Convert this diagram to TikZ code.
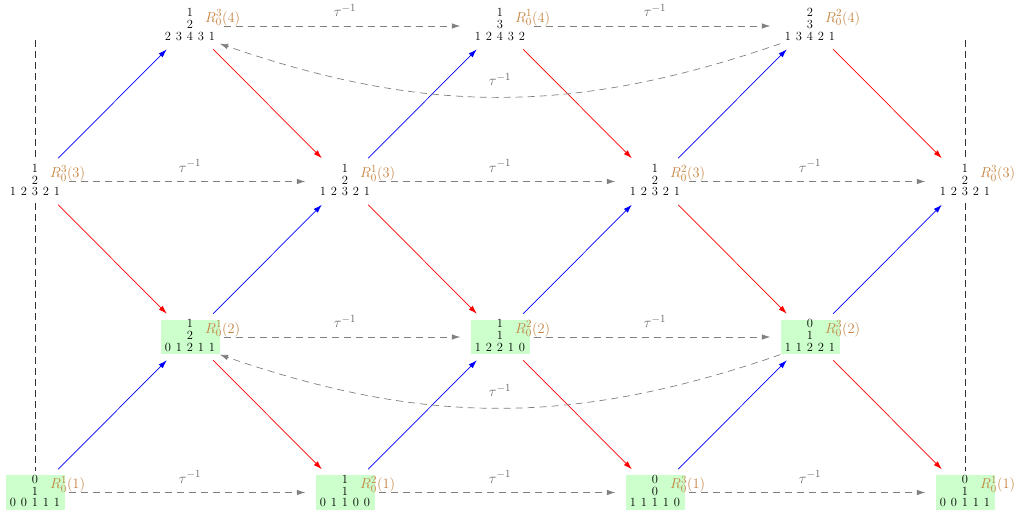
\documentclass[tikz,border=0pt]{standalone}
\usetikzlibrary{arrows.meta}
\definecolor{labc}{RGB}{196,130,62}
\definecolor{nodegreen}{RGB}{204,255,204}
\newcommand\stk[7]{\begin{tabular}{@{}c@{}}#1\\#2\\\mbox{\makebox[11pt]{#3}\makebox[11pt]{#4}\makebox[11pt]{#5}\makebox[11pt]{#6}\makebox[11pt]{#7}}\end{tabular}}
\begin{document}
\begin{tikzpicture}[x=1pt,y=-1pt,
  stkbox/.style={inner xsep=2pt, inner ysep=0pt, font=\fontsize{12.5}{11}\selectfont},
  gstkbox/.style={stkbox, fill=nodegreen},
  lab/.style={text=labc, font=\fontsize{15}{17}\selectfont, anchor=base west, inner sep=0pt},
  uparr/.style={blue, line width=0.7pt, -{Latex[length=8.5pt,width=5.5pt]}, shorten <=8pt, shorten >=8pt},
  downarr/.style={red, line width=0.7pt, -{Latex[length=8.5pt,width=5.5pt]}, shorten <=8pt, shorten >=8pt},
  tauarr/.style={gray, line width=0.7pt, dash pattern=on 7pt off 5pt, -{Latex[length=8.5pt,width=5.5pt]}},
  taulab/.style={text=black!60, font=\fontsize{15}{17}\selectfont, inner sep=0pt},
  vline/.style={black!80, line width=0.7pt, dash pattern=on 7pt off 4pt}
]
\useasboundingbox (0,0) rectangle (1019,512);

% top row
\node[stkbox] (T1) at (190,26) {\stk{1}{2}{2}{3}{4}{3}{1}};
\node[lab] (T1l) at ([xshift=15pt,yshift=4pt]T1.center) {$R_0^3(4)$};
\node[stkbox] (T2) at (500,26) {\stk{1}{3}{1}{2}{4}{3}{2}};
\node[lab] (T2l) at ([xshift=15pt,yshift=4pt]T2.center) {$R_0^1(4)$};
\node[stkbox] (T3) at (810,26) {\stk{2}{3}{1}{3}{4}{2}{1}};
\node[lab] (T3l) at ([xshift=15pt,yshift=4pt]T3.center) {$R_0^2(4)$};

% second row
\node[stkbox] (A0) at (35,181.5) {\stk{1}{2}{1}{2}{3}{2}{1}};
\node[lab] (A0l) at ([xshift=15pt,yshift=4pt]A0.center) {$R_0^3(3)$};
\node[stkbox] (A1) at (345,181.5) {\stk{1}{2}{1}{2}{3}{2}{1}};
\node[lab] (A1l) at ([xshift=15pt,yshift=4pt]A1.center) {$R_0^1(3)$};
\node[stkbox] (A2) at (655,181.5) {\stk{1}{2}{1}{2}{3}{2}{1}};
\node[lab] (A2l) at ([xshift=15pt,yshift=4pt]A2.center) {$R_0^2(3)$};
\node[stkbox] (A3) at (965,181.5) {\stk{1}{2}{1}{2}{3}{2}{1}};
\node[lab] (A3l) at ([xshift=15pt,yshift=4pt]A3.center) {$R_0^3(3)$};

% third row
\node[gstkbox] (B1) at (190,337) {\stk{1}{2}{0}{1}{2}{1}{1}};
\node[lab] (B1l) at ([xshift=15pt,yshift=4pt]B1.center) {$R_0^1(2)$};
\node[gstkbox] (B2) at (500,337) {\stk{1}{1}{1}{2}{2}{1}{0}};
\node[lab] (B2l) at ([xshift=15pt,yshift=4pt]B2.center) {$R_0^2(2)$};
\node[gstkbox] (B3) at (810,337) {\stk{0}{1}{1}{1}{2}{2}{1}};
\node[lab] (B3l) at ([xshift=15pt,yshift=4pt]B3.center) {$R_0^3(2)$};

% bottom row
\node[gstkbox] (C0) at (35,492.5) {\stk{0}{1}{0}{0}{1}{1}{1}};
\node[lab] (C0l) at ([xshift=15pt,yshift=4pt]C0.center) {$R_0^1(1)$};
\node[gstkbox] (C1) at (345,492.5) {\stk{1}{1}{0}{1}{1}{0}{0}};
\node[lab] (C1l) at ([xshift=15pt,yshift=4pt]C1.center) {$R_0^2(1)$};
\node[gstkbox] (C2) at (655,492.5) {\stk{0}{0}{1}{1}{1}{1}{0}};
\node[lab] (C2l) at ([xshift=15pt,yshift=4pt]C2.center) {$R_0^3(1)$};
\node[gstkbox] (C3) at (965,492.5) {\stk{0}{1}{0}{0}{1}{1}{1}};
\node[lab] (C3l) at ([xshift=15pt,yshift=4pt]C3.center) {$R_0^1(1)$};

% vertical dashed lines
\coordinate (LT) at (35,40);
\coordinate (RT) at (965,40);
\draw[vline, shorten >=4pt] (LT) -- (A0);
\draw[vline, shorten <=4pt, shorten >=4pt] (A0) -- (C0);
\draw[vline, shorten >=4pt] (RT) -- (A3);
\draw[vline, shorten <=4pt, shorten >=4pt] (A3) -- (C3);

% blue arrows
\draw[uparr] (C0) -- (B1);
\draw[uparr] (B1) -- (A1);
\draw[uparr] (A0) -- (T1);
\draw[uparr] (A1) -- (T2);
\draw[uparr] (C1) -- (B2);
\draw[uparr] (B2) -- (A2);
\draw[uparr] (A2) -- (T3);
\draw[uparr] (C2) -- (B3);
\draw[uparr] (B3) -- (A3);

% red arrows
\draw[downarr] (T1) -- (A1);
\draw[downarr] (A0) -- (B1);
\draw[downarr] (B1) -- (C1);
\draw[downarr] (T2) -- (A2);
\draw[downarr] (A1) -- (B2);
\draw[downarr] (B2) -- (C2);
\draw[downarr] (T3) -- (A3);
\draw[downarr] (A2) -- (B3);
\draw[downarr] (B3) -- (C3);

% tau^{-1} arrows
\draw[tauarr, shorten <=4pt, shorten >=10pt] (T1) -- node[taulab, above=9pt] (tt1) {$\tau^{-1}$} (T2);
\draw[tauarr, shorten <=4pt, shorten >=10pt] (T2) -- node[taulab, above=9pt] (tt2) {$\tau^{-1}$} (T3);
\draw[tauarr, shorten <=4pt, shorten >=10pt] (A0) -- node[taulab, above=9pt] (ta1) {$\tau^{-1}$} (A1);
\draw[tauarr, shorten <=4pt, shorten >=10pt] (A1) -- node[taulab, above=9pt] (ta2) {$\tau^{-1}$} (A2);
\draw[tauarr, shorten <=4pt, shorten >=10pt] (A2) -- node[taulab, above=9pt] (ta3) {$\tau^{-1}$} (A3);
\draw[tauarr, shorten <=4pt, shorten >=10pt] (B1) -- node[taulab, above=9pt] (tb1) {$\tau^{-1}$} (B2);
\draw[tauarr, shorten <=4pt, shorten >=10pt] (B2) -- node[taulab, above=9pt] (tb2) {$\tau^{-1}$} (B3);
\draw[tauarr, shorten <=4pt, shorten >=10pt] (C0) -- node[taulab, above=9pt] (tc1) {$\tau^{-1}$} (C1);
\draw[tauarr, shorten <=4pt, shorten >=10pt] (C1) -- node[taulab, above=9pt] (tc2) {$\tau^{-1}$} (C2);
\draw[tauarr, shorten <=4pt, shorten >=10pt] (C2) -- node[taulab, above=9pt] (tc3) {$\tau^{-1}$} (C3);

% curved tau^{-1} arrows
\draw[tauarr] (T3.south west) to[bend left=19] node[taulab, above=11pt] (tcv1) {$\tau^{-1}$} (T1.south east);
\draw[tauarr] (B3.south west) to[bend left=19] node[taulab, above=11pt] (tcv2) {$\tau^{-1}$} (B1.south east);
\end{tikzpicture}
\end{document}
